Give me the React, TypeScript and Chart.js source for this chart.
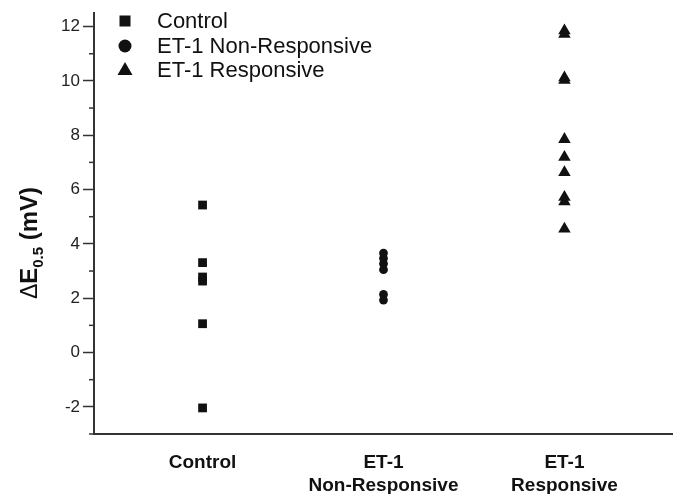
import React, { useEffect, useRef } from "react";
import { Chart, registerables } from "chart.js";

Chart.register(...registerables);

const categories: (string | string[])[] = ["Control", ["ET-1", "Non-Responsive"], ["ET-1", "Responsive"]];
const seriesNames = ["Control", "ET-1 Non-Responsive", "ET-1 Responsive"];
const controlValues = [5.43, 3.31, 2.78, 2.63, 1.06, -2.04];
const nonResponsiveValues = [3.66, 3.47, 3.27, 3.05, 2.14, 1.93];
const responsiveValues = [11.85, 11.72, 10.12, 10.03, 7.85, 7.19, 6.63, 5.72, 5.55, 4.55];
const yMajorTicks = [-2, 0, 2, 4, 6, 8, 10, 12];
const yMinorTicks = [-3, -1, 1, 3, 5, 7, 9, 11];

const FONT = "'Liberation Sans', Arial, Helvetica, sans-serif";
const INK = "#111";

const customPlugin = {
  id: "custom",
  afterDraw(chart: any) {
    const ctx = chart.ctx;
    const y = chart.scales.y;
    const left = chart.chartArea.left;
    ctx.save();
    // minor ticks
    ctx.strokeStyle = "#333";
    ctx.lineWidth = 1.5;
    yMinorTicks.forEach((v) => {
      const py = y.getPixelForValue(v);
      ctx.beginPath();
      ctx.moveTo(left - 5, py);
      ctx.lineTo(left, py);
      ctx.stroke();
    });
    // y axis title with subscript
    ctx.translate(30, 243);
    ctx.rotate(-Math.PI / 2);
    ctx.fillStyle = INK;
    ctx.textBaseline = "alphabetic";
    const parts = [
      { t: "\u0394", f: `normal 23px ${FONT}`, dy: 0 },
      { t: "E", f: `bold 24px ${FONT}`, dy: 0 },
      { t: "0.5", f: `bold 15px ${FONT}`, dy: 6 },
      { t: " (mV)", f: `bold 24px ${FONT}`, dy: 0 },
    ];
    let total = 0;
    const widths = parts.map((p) => {
      ctx.font = p.f;
      const w = ctx.measureText(p.t).width;
      total += w;
      return w;
    });
    let x = -total / 2;
    parts.forEach((p, i) => {
      ctx.font = p.f;
      ctx.fillText(p.t, x, 7 + p.dy);
      x += widths[i];
    });
    ctx.restore();

    // legend
    ctx.save();
    ctx.fillStyle = INK;
    const mx = 125;
    const rows = [21, 46, 70];
    ctx.fillRect(mx - 5.5, rows[0] - 5.5, 11, 11);
    ctx.beginPath();
    ctx.arc(mx, rows[1], 6.5, 0, Math.PI * 2);
    ctx.fill();
    ctx.beginPath();
    ctx.moveTo(mx, rows[2] - 8);
    ctx.lineTo(mx + 7.5, rows[2] + 5);
    ctx.lineTo(mx - 7.5, rows[2] + 5);
    ctx.closePath();
    ctx.fill();
    ctx.font = `normal 22px ${FONT}`;
    ctx.textBaseline = "middle";
    seriesNames.forEach((n, i) => ctx.fillText(n, 157, rows[i] + 1));
    ctx.restore();
  },
};

export default function App() {
  const ref = useRef<HTMLCanvasElement | null>(null);
  useEffect(() => {
    if (!ref.current) return;
    const mk = (vals: number[], idx: number) => vals.map((v) => ({ x: idx + 1, y: v }));
    const chart = new Chart(ref.current, {
      type: "scatter",
      data: {
        datasets: [
          { label: seriesNames[0], data: mk(controlValues, 0), pointStyle: "rect", pointRadius: 6.2, backgroundColor: INK, borderWidth: 0 },
          { label: seriesNames[1], data: mk(nonResponsiveValues, 1), pointStyle: "circle", pointRadius: 4.4, backgroundColor: INK, borderWidth: 0 },
          { label: seriesNames[2], data: mk(responsiveValues, 2), pointStyle: "triangle", pointRadius: 7.2, backgroundColor: INK, borderWidth: 0 },
        ],
      },
      options: {
        animation: false,
        responsive: false,
        maintainAspectRatio: false,
        layout: { autoPadding: false, padding: { top: 13, right: 0, left: 0, bottom: 0 } },
        plugins: { legend: { display: false }, tooltip: { enabled: false } },
        scales: {
          x: {
            type: "linear",
            min: 0.4,
            max: 3.6,
            afterBuildTicks: (s: any) => {
              s.ticks = categories.map((_, i) => ({ value: i + 1 }));
            },
            afterFit: (s: any) => {
              s.height = 60;
              s.paddingLeft = 0;
              s.paddingRight = 0;
            },
            grid: { display: false, drawTicks: false },
            border: { display: true, color: "#333", width: 2 },
            ticks: {
              padding: 18,
              maxRotation: 0,
              autoSkip: false,
              color: INK,
              font: { family: FONT, size: 19, weight: "bold", lineHeight: 1.18 },
              callback: (v: any) => categories[Math.round(Number(v)) - 1] as any,
            },
          },
          y: {
            type: "linear",
            min: -3,
            max: 12.5,
            afterBuildTicks: (s: any) => {
              s.ticks = yMajorTicks.map((v) => ({ value: v }));
            },
            afterFit: (s: any) => {
              s.width = 94;
              s.paddingTop = 0;
              s.paddingBottom = 0;
            },
            grid: { display: true, drawOnChartArea: false, drawTicks: true, tickLength: 11, tickColor: "#333", tickWidth: 1.5 },
            border: { display: true, color: "#333", width: 2 },
            ticks: {
              padding: 3,
              color: "#222",
              font: { family: FONT, size: 17 },
            },
          },
        },
      },
      plugins: [customPlugin],
    });
    return () => chart.destroy();
  }, []);
  return (
    <div style={{ position: "fixed", left: 0, top: 0, width: 673, height: 494, background: "#fff" }}>
      <canvas ref={ref} width={673} height={494} style={{ width: 673, height: 494, display: "block" }} />
    </div>
  );
}
